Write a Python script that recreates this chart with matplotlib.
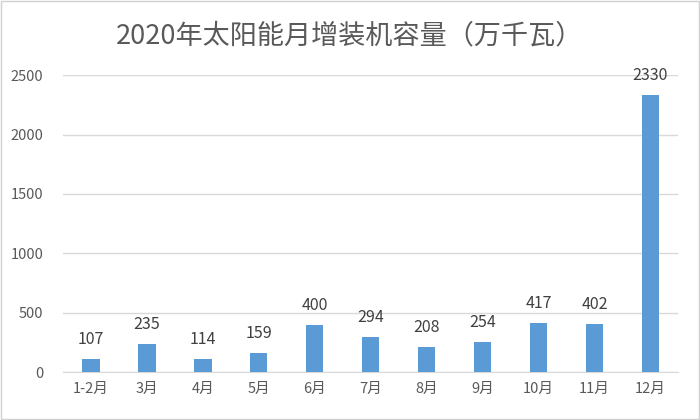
import matplotlib
matplotlib.use("Agg")
from matplotlib import pyplot as plt
from matplotlib.patches import Rectangle

plt.rcParams['font.family'] = ['Noto Sans CJK SC', 'DejaVu Sans']

months = ["1-2月", "3月", "4月", "5月", "6月", "7月", "8月", "9月", "10月", "11月", "12月"]
capacity = [107, 235, 114, 159, 400, 294, 208, 254, 417, 402, 2330]
y_ticks = [0, 500, 1000, 1500, 2000, 2500]

fig = plt.figure(figsize=(7, 4.2), dpi=100)
ax = fig.add_axes([0.09, 0.114, 0.879, 0.707])

x = range(len(months))
bars = ax.bar(x, capacity, width=0.31, color="#5B9BD5", zorder=3)
for rect, v in zip(bars, capacity):
    ax.annotate(str(v), (rect.get_x() + rect.get_width() / 2, v),
                xytext=(0, 14), textcoords="offset points",
                ha="center", va="center", fontsize=11.5, color="#404040",
                annotation_clip=False)

ax.set_xlim(-0.5, len(months) - 0.5)
ax.set_ylim(0, 2500)
ax.set_yticks(y_ticks)
ax.set_xticks(list(x))
ax.set_xticklabels(months)
ax.grid(axis="y", color="#D9D9D9", linewidth=1, zorder=0)
for side in ["top", "right", "left"]:
    ax.spines[side].set_visible(False)
ax.spines["bottom"].set_color("#D9D9D9")
ax.tick_params(axis="both", length=0, labelsize=10.5, labelcolor="#595959")
ax.tick_params(axis="x", pad=7)
ax.tick_params(axis="y", pad=14)

fig.text(0.5, 0.915, "2020年太阳能月增装机容量（万千瓦）", ha="center", va="center",
         fontsize=19.5, color="#595959")
fig.patches.append(Rectangle((0.002, 0.003), 0.996, 0.994, transform=fig.transFigure,
                             fill=False, edgecolor="#D0D0D0", linewidth=1))

fig.savefig("out.png", dpi=100)
